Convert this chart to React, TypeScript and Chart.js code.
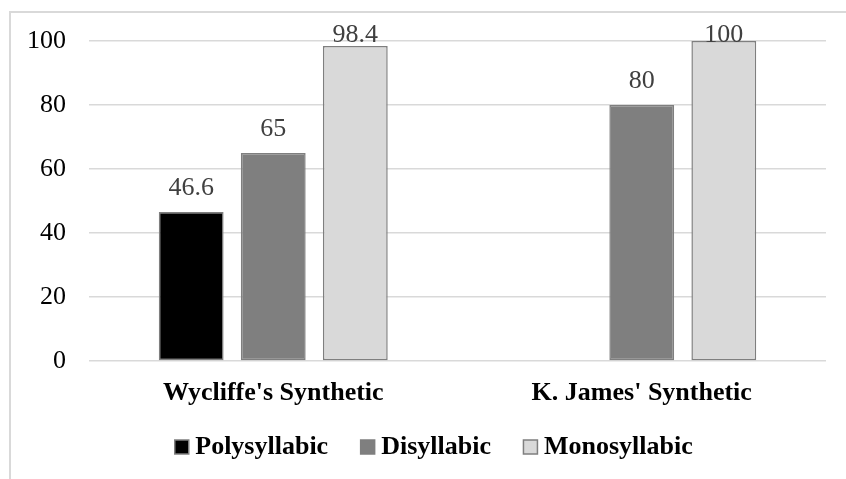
import React, { useEffect, useRef } from "react";
import { Chart, registerables } from "chart.js";

Chart.register(...registerables);

// Share of words by syllable count in each synthetic text
const categories = ["Wycliffe's Synthetic", "K. James' Synthetic"];
const seriesNames = ["Polysyllabic", "Disyllabic", "Monosyllabic"];
const polysyllabic: (number | null)[] = [46.6, null];
const disyllabic: (number | null)[] = [65, 80];
const monosyllabic: (number | null)[] = [98.4, 100];
const seriesColors = ["#000000", "#7f7f7f", "#d9d9d9"];
const yMin = 0;
const yMax = 100;
const yStep = 20;

const FONT = '"Liberation Serif", "Times New Roman", serif';
const CANVAS_W = 880;
const CANVAS_H = 500;
const LEGEND_LIFT = 15;

// Light grey frame around the whole chart
const framePlugin = {
  id: "frame",
  beforeDraw(chart: Chart) {
    const ctx = chart.ctx;
    ctx.save();
    ctx.fillStyle = "#ffffff";
    ctx.fillRect(0, 0, chart.width, chart.height);
    ctx.strokeStyle = "#d9d9d9";
    ctx.lineWidth = 2;
    ctx.strokeRect(10, 12, 855, 480);
    ctx.restore();
  },
};

// The legend keeps wide gaps between its items; pull it a little closer to the axis labels
const legendLiftPlugin = {
  id: "legendLift",
  afterLayout(chart: any) {
    const lg = chart.legend;
    if (lg) {
      lg.top -= LEGEND_LIFT;
      lg.bottom -= LEGEND_LIFT;
    }
  },
};

// Value labels above each bar, kept inside the plot area
const valueLabelPlugin = {
  id: "valueLabels",
  afterDatasetsDraw(chart: Chart) {
    const ctx = chart.ctx;
    const top = chart.chartArea.top;
    ctx.save();
    ctx.font = `26px ${FONT}`;
    ctx.fillStyle = "#404040";
    ctx.textAlign = "center";
    ctx.textBaseline = "alphabetic";
    chart.data.datasets.forEach((ds, di) => {
      const meta = chart.getDatasetMeta(di);
      meta.data.forEach((el: any, i: number) => {
        const v = ds.data[i] as number | null;
        if (v === null || v === undefined) return;
        const y = Math.max(el.y - 17, top + 1);
        ctx.fillText(String(v), el.x, y);
      });
    });
    ctx.restore();
  },
};

export default function App() {
  const ref = useRef<HTMLCanvasElement | null>(null);

  useEffect(() => {
    if (!ref.current) return;
    const values = [polysyllabic, disyllabic, monosyllabic];
    const chart = new Chart(ref.current, {
      type: "bar",
      data: {
        labels: categories,
        datasets: seriesNames.map((name, k) => ({
          label: name,
          data: values[k],
          backgroundColor: seriesColors[k],
          borderColor: "#7f7f7f",
          borderWidth: 1.5,
          borderSkipped: false,
          categoryPercentage: 0.668,
          barPercentage: 0.79,
          yAxisID: "y",
        })),
      },
      options: {
        responsive: false,
        animation: false,
        devicePixelRatio: 1,
        layout: { padding: { left: 9, right: 15, top: 41, bottom: 15 } },
        plugins: {
          legend: {
            position: "bottom",
            labels: {
              usePointStyle: true,
              pointStyle: "rect",
              boxWidth: 1,
              boxHeight: 14,
              padding: 39,
              color: "#000000",
              font: { family: FONT, size: 26, weight: "bold" },
            },
          },
          tooltip: { enabled: false },
        },
        scales: {
          x: {
            grid: { display: false, drawTicks: false },
            border: { display: false },
            ticks: {
              padding: 17,
              color: "#000000",
              font: { family: FONT, size: 26, weight: "bold" },
              maxRotation: 0,
            },
            afterFit(s: any) {
              s.height = 49;
            },
          },
          y: {
            min: yMin,
            max: yMax,
            ticks: {
              stepSize: yStep,
              padding: 23,
              color: "#000000",
              font: { family: FONT, size: 26 },
            },
            grid: { color: "#d9d9d9", lineWidth: 1.5, drawTicks: false },
            border: { display: false },
            afterFit(s: any) {
              s.width = 80;
            },
          },
          yR: {
            position: "right",
            min: yMin,
            max: yMax,
            grid: { display: false, drawTicks: false },
            border: { display: false },
            ticks: { display: false },
            afterFit(s: any) {
              s.width = 39;
            },
          },
        },
      },
      plugins: [framePlugin, legendLiftPlugin, valueLabelPlugin],
    });
    return () => chart.destroy();
  }, []);

  return (
    <div
      style={{
        position: "fixed",
        left: 0,
        top: 0,
        width: 846,
        height: 479,
        overflow: "hidden",
        background: "#ffffff",
      }}
    >
      <canvas
        ref={ref}
        width={CANVAS_W}
        height={CANVAS_H}
        style={{ display: "block", width: CANVAS_W, height: CANVAS_H }}
      />
    </div>
  );
}
